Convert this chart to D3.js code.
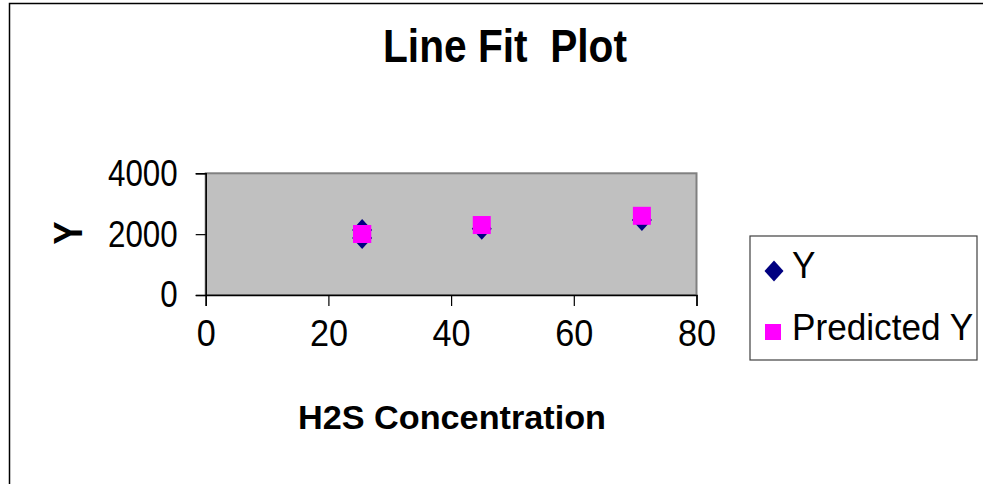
<!DOCTYPE html>
<html>
<head>
<meta charset="utf-8">
<script src="https://cdn.jsdelivr.net/npm/d3@7"></script>
<style>
  html, body { margin: 0; padding: 0; background: #fff; }
  svg { display: block; font-family: "Liberation Sans", Arial, sans-serif; }
  text { white-space: pre; }
</style>
</head>
<body>
<svg id="chart" width="983" height="484"></svg>
<script>
// H2S concentration for each observation, observed Y, and fitted (predicted) Y
const concentration = [25.5, 25.5, 45, 71.1];
const observedY = [2136, 1873, 2179, 2465];
const predictedY = [2005, 2005, 2300, 2603];

const xTicks = [0, 20, 40, 60, 80];
const yTicks = [0, 2000, 4000];
const seriesNames = ["Y", "Predicted Y"];

const svg = d3.select("#chart");

// outer chart frame (extends past the right and bottom edges)
svg.append("rect")
  .attr("x", 9.5).attr("y", 3.5)
  .attr("width", 1000).attr("height", 520)
  .attr("fill", "#fff").attr("stroke", "#000").attr("stroke-width", 1.5);

const plot = { left: 205.7, right: 696.5, top: 173.3, bottom: 295 };

const x = d3.scaleLinear().domain([0, 80]).range([plot.left, plot.right]);
const y = d3.scaleLinear().domain([0, 4000]).range([plot.bottom, plot.top]);

// squeeze text horizontally to a given factor of its natural width
function squeeze(sel, factor) {
  sel.each(function () {
    const w = this.getComputedTextLength();
    d3.select(this).attr("textLength", w * factor).attr("lengthAdjust", "spacingAndGlyphs");
  });
}

// rhombus marker centred on the origin
function rhombus(hw, hh) {
  const p = d3.path();
  p.moveTo(0, -hh); p.lineTo(hw, 0); p.lineTo(0, hh); p.lineTo(-hw, 0); p.closePath();
  return p.toString();
}

// plot area
svg.append("rect")
  .attr("x", plot.left).attr("y", plot.top)
  .attr("width", plot.right - plot.left).attr("height", plot.bottom - plot.top)
  .attr("fill", "#c0c0c0").attr("stroke", "#808080").attr("stroke-width", 2);

// axes
const yAxis = d3.axisLeft(y).tickValues(yTicks).tickFormat(d3.format("d")).tickSize(10).tickPadding(18);
const xAxis = d3.axisBottom(x).tickValues(xTicks).tickFormat(d3.format("d")).tickSize(11).tickPadding(6);

const gy = svg.append("g").attr("transform", `translate(${plot.left},0)`).call(yAxis);
const gx = svg.append("g").attr("transform", `translate(0,${plot.bottom})`).call(xAxis);

[gx, gy].forEach(g => {
  g.select(".domain").attr("stroke", "#000").attr("stroke-width", 1.5);
  g.selectAll(".tick line").attr("stroke", "#000").attr("stroke-width", 1.2);
  g.selectAll(".tick text")
    .attr("fill", "#000")
    .attr("font-family", "Liberation Sans, Arial, sans-serif")
    .attr("font-size", 36);
});
gy.selectAll(".tick text").attr("dy", "0.33em");
gx.selectAll(".tick text").attr("dy", "0.95em");
squeeze(gy.selectAll(".tick text"), 0.87);
squeeze(gx.selectAll(".tick text"), 0.95);

// markers
const obs = concentration.map((c, i) => ({ c, v: observedY[i] }));
const pred = concentration.map((c, i) => ({ c, v: predictedY[i] }));

svg.append("g").selectAll("path")
  .data(obs).join("path")
  .attr("d", rhombus(10, 11))
  .attr("transform", d => `translate(${x(d.c)},${y(d.v)})`)
  .attr("fill", "#000080");

const sq = 18;
svg.append("g").selectAll("rect")
  .data(pred).join("rect")
  .attr("x", d => x(d.c) - sq / 2)
  .attr("y", d => y(d.v) - sq / 2)
  .attr("width", sq).attr("height", sq)
  .attr("fill", "#ff00ff");

// titles
svg.append("text")
  .attr("x", 505).attr("y", 62)
  .attr("text-anchor", "middle")
  .attr("font-weight", "bold").attr("font-size", 46)
  .attr("textLength", 244).attr("lengthAdjust", "spacingAndGlyphs")
  .text("Line Fit  Plot");

svg.append("text")
  .attr("x", 298).attr("y", 429)
  .attr("font-weight", "bold").attr("font-size", 33)
  .attr("textLength", 308).attr("lengthAdjust", "spacingAndGlyphs")
  .text("H2S Concentration");

svg.append("text")
  .attr("transform", "translate(81.5,233) rotate(-90)")
  .attr("text-anchor", "middle")
  .attr("font-weight", "bold").attr("font-size", 40)
  .attr("textLength", 23).attr("lengthAdjust", "spacingAndGlyphs")
  .text("Y");

// legend
const legend = svg.append("g");
legend.append("rect")
  .attr("x", 750).attr("y", 236)
  .attr("width", 227).attr("height", 124)
  .attr("fill", "#fff").attr("stroke", "#404040").attr("stroke-width", 1.2);

legend.append("path")
  .attr("d", rhombus(9.5, 10.5))
  .attr("transform", "translate(774,271)")
  .attr("fill", "#000080");
legend.append("rect")
  .attr("x", 765).attr("y", 324).attr("width", 16).attr("height", 16)
  .attr("fill", "#ff00ff");

const legendText = legend.selectAll("text.lbl")
  .data(seriesNames).join("text")
  .attr("class", "lbl")
  .attr("x", 792)
  .attr("y", (d, i) => i === 0 ? 278 : 340)
  .attr("font-size", 37)
  .attr("fill", "#000")
  .text(d => d);
squeeze(legendText, 0.95);
</script>
</body>
</html>
